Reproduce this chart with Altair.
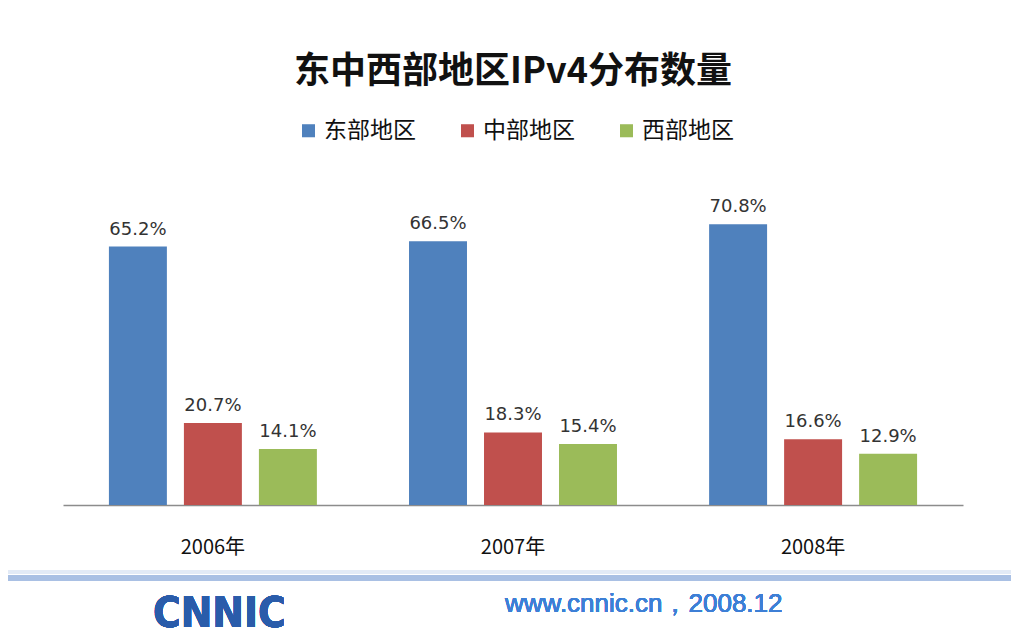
import altair as alt
import pandas as pd

years = ["2006年", "2007年", "2008年"]
regions = ["东部地区", "中部地区", "西部地区"]
east = [65.2, 66.5, 70.8]
central = [20.7, 18.3, 16.6]
west = [14.1, 15.4, 12.9]
colors = ["#4F81BD", "#C0504D", "#9BBB59"]

rows = []
for i, y in enumerate(years):
    for r, vals in zip(regions, [east, central, west]):
        rows.append({"year": y, "region": r, "value": vals[i], "label": f"{vals[i]:.1f}%"})
df = pd.DataFrame(rows)

FONT = "Noto Sans CJK SC"

x = alt.X("year:N", sort=years, title=None,
          scale=alt.Scale(paddingInner=0.307, paddingOuter=0.153),
          axis=alt.Axis(labelAngle=0, labelFontSize=20, labelColor="#111111",
                        labelFont=FONT, ticks=False, domainColor="#8c8c8c",
                        domainWidth=1.5, labelPadding=32))
xo = alt.XOffset("region:N", sort=regions,
                 scale=alt.Scale(paddingInner=0.227, paddingOuter=0))
y = alt.Y("value:Q", scale=alt.Scale(domain=[0, 85]), axis=None)

bars = alt.Chart(df).mark_bar().encode(
    x=x, xOffset=xo, y=y,
    color=alt.Color("region:N", sort=regions,
                    scale=alt.Scale(domain=regions, range=colors),
                    legend=alt.Legend(title=None, orient="none", direction="horizontal",
                                      legendX=234, legendY=-49, symbolType="square",
                                      symbolSize=170, labelFontSize=23, labelFont=FONT,
                                      labelColor="#111111", columnPadding=40,
                                      symbolStrokeWidth=0)),
)

labels = alt.Chart(df).mark_text(dy=-17, fontSize=18, font="DejaVu Sans",
                                 color="#333333").encode(
    x=x, xOffset=xo, y=y, text="label:N")

footer_line = alt.Chart(df).mark_rule(color="#a9c0e4", strokeWidth=6, clip=False).encode(
    x=alt.value(-70), x2=alt.value(960), y=alt.value(410))
footer_line2 = alt.Chart(df).mark_rule(color="#e2eaf6", strokeWidth=3, clip=False).encode(
    x=alt.value(-70), x2=alt.value(960), y=alt.value(404))

logo = alt.Chart(df).mark_text(text="CNNIC", fontSize=42, fontWeight="bold",
                               font="DejaVu Sans Condensed", color="#2a5caa",
                               align="left", baseline="middle", clip=False).encode(
    x=alt.value(90), y=alt.value(446))

site = alt.Chart(df).mark_text(text="www.cnnic.cn，2008.12", fontSize=26,
                               font="Liberation Sans", color="#3d7fd6",
                               align="left", baseline="middle", clip=False).encode(
    x=alt.value(442), y=alt.value(436))

chart = alt.layer(bars, labels, footer_line2, footer_line, logo, site).properties(
    width=900, height=337,
    autosize=alt.AutoSizeParams(type="none"),
    padding={"left": 55, "top": 160, "right": 48, "bottom": 136},
    background="white",
    title=alt.TitleParams("东中西部地区IPv4分布数量", fontSize=36, font=FONT,
                          fontWeight="bold", color="#111111", anchor="middle",
                          offset=28),
).configure_view(strokeWidth=0, stroke="transparent")

chart.save("out.html", embed_options={"renderer": "svg", "actions": False})
